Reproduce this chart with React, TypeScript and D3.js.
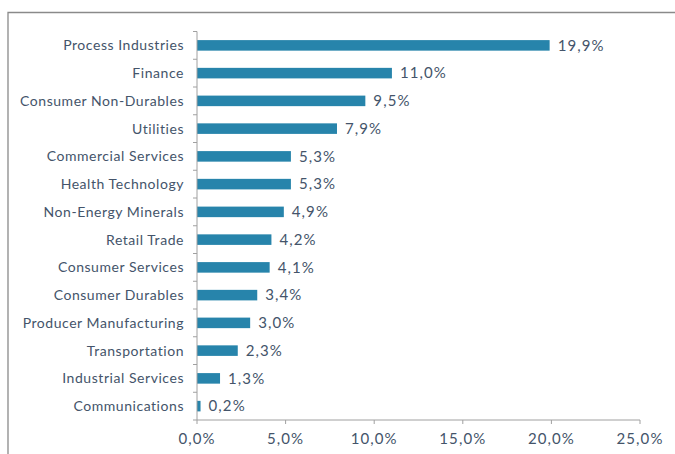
import * as d3 from "d3";

const categories = [
  "Process Industries",
  "Finance",
  "Consumer Non-Durables",
  "Utilities",
  "Commercial Services",
  "Health Technology",
  "Non-Energy Minerals",
  "Retail Trade",
  "Consumer Services",
  "Consumer Durables",
  "Producer Manufacturing",
  "Transportation",
  "Industrial Services",
  "Communications",
];
const values = [19.9, 11.0, 9.5, 7.9, 5.3, 5.3, 4.9, 4.2, 4.1, 3.4, 3.0, 2.3, 1.3, 0.2];
const xTicks = [0, 5, 10, 15, 20, 25];

const width = 675;
const height = 454;
const margin = { top: 31.5, right: 35, bottom: 34, left: 197 };
const textColor = "#44546a";
const axisColor = "#a0a0a0";
const barColor = "#2784ab";
const font = "Lato, 'Noto Sans', sans-serif";

const pct = (v: number) => d3.format(".1f")(v).replace(".", ",") + "%";

export default function App() {
  const innerW = width - margin.left - margin.right;
  const innerH = height - margin.top - margin.bottom;

  const x = d3.scaleLinear().domain([0, 25]).range([0, innerW]);
  const y = d3.scaleBand().domain(categories).range([0, innerH]).paddingInner(0.62).paddingOuter(0.31);
  const step = y.step();

  return (
    <svg
      width={width}
      height={height}
      style={{ position: "fixed", left: 0, top: 0, background: "#fff", fontFamily: font }}
    >
      <path d={`M8,${height}V12.5H${width}`} fill="none" stroke="#8a8a8a" strokeWidth={1.3} />
      <g transform={`translate(${margin.left},${margin.top})`}>
        {categories.map((c, i) => (
          <g key={c}>
            <rect
              x={x(0)}
              y={y(c)!}
              width={x(values[i]) - x(0)}
              height={y.bandwidth()}
              fill={barColor}
            />
            <text
              x={-13}
              y={y(c)! + y.bandwidth() / 2}
              dy="0.35em"
              textAnchor="end"
              fontSize={14}
              letterSpacing={0.55}
              fill={textColor}
            >
              {c}
            </text>
            <text
              x={x(values[i]) + 8}
              y={y(c)! + y.bandwidth() / 2}
              dy="0.35em"
              fontSize={15}
              letterSpacing={1.1}
              fill={textColor}
            >
              {pct(values[i])}
            </text>
          </g>
        ))}
        {/* category axis, ticks sit between the bands */}
        <line x1={0} x2={0} y1={0} y2={innerH} stroke={axisColor} />
        {d3.range(categories.length + 1).map((i) => (
          <line key={i} x1={-4} x2={0} y1={i * step} y2={i * step} stroke={axisColor} />
        ))}
        {/* value axis */}
        <line x1={0} x2={innerW} y1={innerH} y2={innerH} stroke={axisColor} />
        {xTicks.map((t) => (
          <g key={t} transform={`translate(${x(t)},${innerH})`}>
            <line y1={0} y2={4} stroke={axisColor} />
            <text y={24} textAnchor="middle" fontSize={15} letterSpacing={1.1} fill={textColor}>
              {pct(t)}
            </text>
          </g>
        ))}
      </g>
    </svg>
  );
}
